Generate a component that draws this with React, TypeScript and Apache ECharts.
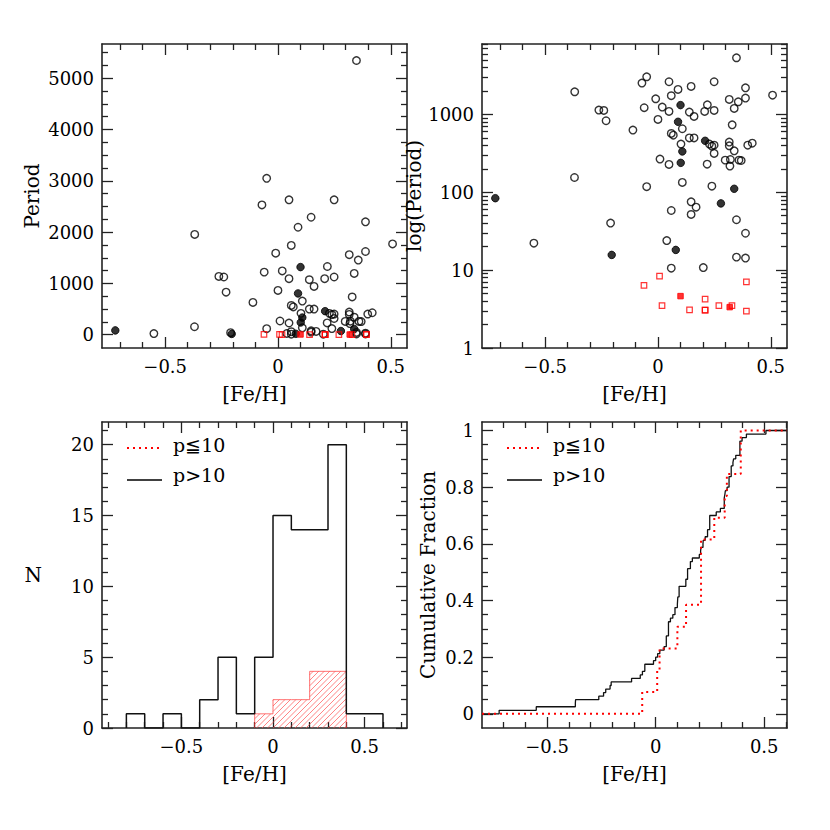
import React, { useEffect, useRef } from 'react';
import * as echarts from 'echarts';

// ---------- data ----------
// Open black circles: P > 10 d
const openFeH = [
  0.348, -0.05, -0.071, 0.049, 0.249, 0.147, 0.089, 0.388, -0.369, 0.059,
  0.388, 0.508, 0.316, 0.356, -0.01, 0.219, -0.061, 0.019, -0.262, -0.24,
  0.049, 0.139, 0.207, 0.249, 0.338, 0.16, 0.0, -0.23, 0.108, -0.111,
  0.329, 0.059, 0.068, 0.139, 0.16, 0.102, 0.228, 0.239, 0.249, 0.316,
  0.316, 0.398, 0.418, 0.338, 0.249, 0.009, 0.049, 0.218, 0.298, 0.319,
  0.321, 0.359, 0.369, -0.37, -0.05, 0.108, 0.239, 0.147, 0.169, 0.059,
  0.147, 0.348, -0.21, 0.388, -0.55, 0.039, 0.348, 0.388, 0.059, 0.201,
];
const openPeriod = [
  5345, 3048, 2530, 2630, 2630, 2290, 2095, 2200, 1955, 1740,
  1622, 1770, 1560, 1455, 1590, 1330, 1220, 1243, 1137, 1125,
  1093, 1072, 1093, 1125, 1195, 942, 863, 830, 655, 630,
  736, 570, 542, 500, 500, 416, 416, 392, 403, 442,
  396, 403, 428, 341, 316, 267, 228, 230, 259, 217,
  264, 259, 256, 155, 118, 134, 120, 75.5, 64.4, 58.4,
  51.9, 44.4, 40.2, 29.8, 22.2, 24.0, 14.7, 14.3, 10.6, 10.8,
];
// Filled black circles
const filledFeH = [0.1, 0.089, 0.108, 0.209, 0.101, -0.721, 0.338, 0.279, 0.079, -0.205];
const filledPeriod = [1318, 805, 335, 459, 239, 84, 111, 72, 18.2, 15.7];
// Red squares: P <= 10 d
const redOpenFeH = [-0.062, 0.007, 0.018, 0.14, 0.209, 0.209, 0.209, 0.27, 0.328, 0.392, 0.392];
const redOpenPeriod = [6.36, 8.37, 3.51, 3.09, 4.24, 3.06, 3.06, 3.51, 3.51, 7.08, 2.97];
const redFilledFeH = [0.1, 0.318];
const redFilledPeriod = [4.64, 3.35];

// Histogram (bin edges, counts)
const histEdges = [-0.8, -0.7, -0.6, -0.5, -0.4, -0.3, -0.2, -0.1, 0, 0.1, 0.2, 0.3, 0.4, 0.5, 0.6];
const histLongCounts = [1, 0, 1, 0, 2, 5, 1, 5, 15, 14, 14, 20, 1, 1];
const histShortEdges = [-0.1, 0, 0.1, 0.2, 0.3, 0.4];
const histShortCounts = [1, 2, 2, 4, 4];

// Tick values
const fehMajor = [-0.5, 0, 0.5];
const fehMinorTop = [-0.7, -0.6, -0.4, -0.3, -0.2, -0.1, 0.1, 0.2, 0.3, 0.4];
const fehMinorHist = [-0.9, -0.8, -0.7, -0.6, -0.4, -0.3, -0.2, -0.1, 0.1, 0.2, 0.3, 0.4, 0.6, 0.7];
const fehMinorCdf = [-0.7, -0.6, -0.4, -0.3, -0.2, -0.1, 0.1, 0.2, 0.3, 0.4, 0.6];
const periodMajor = [0, 1000, 2000, 3000, 4000, 5000];
const periodMinor = [250, 500, 750, 1250, 1500, 1750, 2250, 2500, 2750, 3250, 3500, 3750, 4250, 4500, 4750, 5250, 5500];
const logMajor = [1, 10, 100, 1000];
const logMinor = [2, 3, 4, 5, 6, 7, 8, 9, 20, 30, 40, 50, 60, 70, 80, 90, 200, 300, 400, 500, 600, 700, 800, 900, 2000, 3000, 4000, 5000, 6000, 7000, 8000];
const nMajor = [0, 5, 10, 15, 20];
const nMinor = [1, 2, 3, 4, 6, 7, 8, 9, 11, 12, 13, 14, 16, 17, 18, 19, 21];
const fracMajor = [0, 0.2, 0.4, 0.6, 0.8, 1];
const fracMinor = [0.05, 0.1, 0.15, 0.25, 0.3, 0.35, 0.45, 0.5, 0.55, 0.65, 0.7, 0.75, 0.85, 0.9, 0.95];

// ---------- styling helpers ----------
const FONT = 'DejaVu Serif';
const AXIS_COLOR = '#222';

const fmtFeH = (v: number) => (v < 0 ? '\u2212' + String(-v) : String(v));
const fmtLog = (v: number) => String(Math.round(Math.pow(10, v)));
const fmtPlain = (v: number) => String(v);

function makeAxes(
  dim: 'x' | 'y', gridIndex: number, min: number, max: number,
  majors: number[], minors: number[], fmt: (v: number) => string,
  name: string, nameGap: number, nameRotate?: number,
) {
  const isX = dim === 'x';
  const base = { type: 'value', gridIndex, min, max, splitLine: { show: false }, axisPointer: { show: false } };
  const mainPos = isX ? 'bottom' : 'left';
  const oppPos = isX ? 'top' : 'right';
  const line = { show: true, onZero: false, lineStyle: { color: AXIS_COLOR, width: 1.6 } };
  const noLine = { show: false, onZero: false };
  const tick = (vals: number[], len: number) => ({
    show: true, inside: true, length: len, customValues: vals,
    lineStyle: { color: AXIS_COLOR, width: 1.3 },
  });
  const main: any = {
    ...base, position: mainPos, axisLine: line, axisTick: tick(majors, 11),
    axisLabel: { show: true, customValues: majors, formatter: fmt, margin: isX ? 9 : 8, fontFamily: FONT, fontSize: 18, color: '#000' },
    name, nameLocation: 'middle', nameGap,
    nameTextStyle: { fontFamily: FONT, fontSize: 20, color: '#000' },
  };
  if (nameRotate !== undefined) main.nameRotate = nameRotate;
  return [
    main,
    { ...base, position: mainPos, axisLine: noLine, axisTick: tick(minors, 6), axisLabel: { show: false } },
    { ...base, position: oppPos, axisLine: line, axisTick: tick(majors, 11), axisLabel: { show: false } },
    { ...base, position: oppPos, axisLine: noLine, axisTick: tick(minors, 6), axisLabel: { show: false } },
  ];
}

function histOutline(edges: number[], counts: number[]) {
  const pts: number[][] = [[edges[0], 0]];
  counts.forEach((c, i) => {
    pts.push([edges[i], c]);
    pts.push([edges[i + 1], c]);
  });
  pts.push([edges[edges.length - 1], 0]);
  return pts;
}

function ecdf(xs: number[], xmin: number, xmax: number) {
  const s = [...xs].sort((a, b) => a - b);
  const n = s.length;
  const pts: number[][] = [[xmin, 0]];
  s.forEach((x, i) => {
    pts.push([x, i / n]);
    pts.push([x, (i + 1) / n]);
  });
  pts.push([xmax, 1]);
  return pts;
}

const pair = (xs: number[], ys: number[], f: (v: number) => number = (v) => v) => xs.map((x, i) => [x, f(ys[i])]);

// axis ranges
const TOP_X: [number, number] = [-0.78, 0.572];
const PERIOD_Y: [number, number] = [-259, 5667];
const LOG_Y: [number, number] = [0, 3.905];
const HIST_X: [number, number] = [-0.933, 0.731];
const HIST_Y: [number, number] = [0, 21.6];
const CDF_X: [number, number] = [-0.8, 0.605];
const CDF_Y: [number, number] = [-0.05, 1.03];

function scatterSeries(xi: number, f: (v: number) => number) {
  const common = { type: 'scatter', xAxisIndex: xi, yAxisIndex: xi, silent: true };
  return [
    { ...common, data: pair(openFeH, openPeriod, f), symbol: 'circle', symbolSize: 7.5,
      itemStyle: { color: 'rgba(0,0,0,0)', borderColor: '#000', borderWidth: 1.4 } },
    { ...common, data: pair(filledFeH, filledPeriod, f), symbol: 'circle', symbolSize: 7.5,
      itemStyle: { color: '#000', borderColor: '#000', borderWidth: 1 } },
    { ...common, data: pair(redOpenFeH, redOpenPeriod, f), symbol: 'rect', symbolSize: 5.5,
      itemStyle: { color: 'rgba(0,0,0,0)', borderColor: '#f00', borderWidth: 1.2 } },
    { ...common, data: pair(redFilledFeH, redFilledPeriod, f), symbol: 'rect', symbolSize: 5.5,
      itemStyle: { color: '#f00', borderColor: '#f00', borderWidth: 1 } },
  ];
}

function legend(x0: number) {
  const t = (text: string, y: number) => ({
    type: 'text', x: x0 + 46, y, silent: true,
    style: { text, fontFamily: FONT, fontSize: 19, fill: '#000', verticalAlign: 'middle', align: 'left' },
  });
  return [
    { type: 'line', silent: true, shape: { x1: x0, y1: 448, x2: x0 + 35, y2: 448 },
      style: { stroke: '#f00', lineWidth: 2, lineDash: [2, 4] } },
    t('p\u226610', 445),
    { type: 'line', silent: true, shape: { x1: x0, y1: 480, x2: x0 + 35, y2: 480 },
      style: { stroke: '#000', lineWidth: 1.3 } },
    t('p>10', 475),
  ];
}

export default function App() {
  const ref = useRef<HTMLDivElement>(null);
  useEffect(() => {
    if (!ref.current) return;
    const chart = echarts.init(ref.current, undefined, { renderer: 'svg' });
    const log10 = (v: number) => Math.log10(v);

    const xAxis = [
      ...makeAxes('x', 0, TOP_X[0], TOP_X[1], fehMajor, fehMinorTop, fmtFeH, '[Fe/H]', 36),
      ...makeAxes('x', 1, TOP_X[0], TOP_X[1], fehMajor, fehMinorTop, fmtFeH, '[Fe/H]', 36),
      ...makeAxes('x', 2, HIST_X[0], HIST_X[1], fehMajor, fehMinorHist, fmtFeH, '[Fe/H]', 36),
      ...makeAxes('x', 3, CDF_X[0], CDF_X[1], fehMajor, fehMinorCdf, fmtFeH, '[Fe/H]', 36),
    ];
    const yAxis = [
      ...makeAxes('y', 0, PERIOD_Y[0], PERIOD_Y[1], periodMajor, periodMinor, fmtPlain, 'Period', 60),
      ...makeAxes('y', 1, LOG_Y[0], LOG_Y[1], logMajor.map(log10), logMinor.map(log10), fmtLog, 'log(Period)', 55),
      ...makeAxes('y', 2, HIST_Y[0], HIST_Y[1], nMajor, nMinor, fmtPlain, 'N', 60, 0),
      ...makeAxes('y', 3, CDF_Y[0], CDF_Y[1], fracMajor, fracMinor, fmtPlain, 'Cumulative Fraction', 44),
    ];

    const hatchData = histShortCounts.map((c, i) => [histShortEdges[i], histShortEdges[i + 1], c]);

    const series: any[] = [
      ...scatterSeries(0, (v) => v),
      ...scatterSeries(4, log10),
      {
        type: 'custom', xAxisIndex: 8, yAxisIndex: 8, silent: true, data: hatchData,
        encode: { x: [0, 1], y: 2 },
        renderItem: (params: any, api: any) => {
          const lo = api.value(0), hi = api.value(1), c = api.value(2);
          const p0 = api.coord([lo, c]);
          const p1 = api.coord([hi, 0]);
          const x0 = p0[0], y0 = p0[1], x1 = p1[0], y1 = p1[1];
          const step = 5.5;
          const children: any[] = [];
          const start = Math.ceil((x0 + y0) / step) * step;
          for (let k = start; k <= x1 + y1; k += step) {
            const ya = Math.max(y0, k - x1);
            const yb = Math.min(y1, k - x0);
            if (yb > ya) {
              children.push({
                type: 'line',
                shape: { x1: k - ya, y1: ya, x2: k - yb, y2: yb },
                style: { stroke: 'rgba(255,70,70,0.75)', lineWidth: 0.9 },
              });
            }
          }
          return { type: 'group', children };
        },
      },
      {
        type: 'line', xAxisIndex: 8, yAxisIndex: 8, silent: true, symbol: 'none',
        data: histOutline(histShortEdges, histShortCounts),
        lineStyle: { color: 'rgba(255,60,60,0.8)', width: 0.9 },
      },
      {
        type: 'line', xAxisIndex: 8, yAxisIndex: 8, silent: true, symbol: 'none',
        data: histOutline(histEdges, histLongCounts),
        lineStyle: { color: '#111', width: 1.5 },
      },
      {
        type: 'line', xAxisIndex: 12, yAxisIndex: 12, silent: true, symbol: 'none',
        data: ecdf([...openFeH, ...filledFeH], CDF_X[0], CDF_X[1]),
        lineStyle: { color: '#111', width: 1.3 },
      },
      {
        type: 'line', xAxisIndex: 12, yAxisIndex: 12, silent: true, symbol: 'none',
        data: ecdf([...redOpenFeH, ...redFilledFeH], CDF_X[0], CDF_X[1]),
        lineStyle: { color: '#f00', width: 2, type: [2, 4] },
      },
    ];

    chart.setOption({
      animation: false,
      backgroundColor: '#fff',
      grid: [
        { left: 102, top: 44, width: 305, height: 304 },
        { left: 482, top: 44, width: 305, height: 304 },
        { left: 102, top: 422, width: 305, height: 306 },
        { left: 482, top: 422, width: 305, height: 306 },
      ],
      xAxis,
      yAxis,
      series,
      graphic: [...legend(127), ...legend(507)],
    });
    return () => chart.dispose();
  }, []);
  return <div ref={ref} style={{ position: 'absolute', left: 0, top: 0, width: 830, height: 830, background: '#fff' }} />;
}
